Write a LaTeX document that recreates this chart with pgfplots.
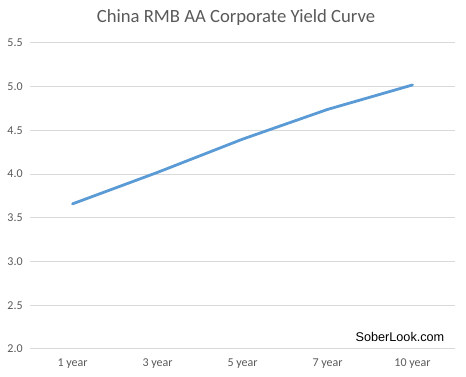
\documentclass[border=0pt]{standalone}
\usepackage{pgfplots}
\pgfplotsset{compat=1.18}
\usepackage{fontspec}
\setmainfont{Carlito}
\newfontfamily\arialfont{Liberation Sans}
\definecolor{txtgray}{HTML}{595959}
\definecolor{gridgray}{HTML}{D9D9D9}
\definecolor{lineblue}{HTML}{5B9BD5}
\begin{document}
\begin{tikzpicture}[x=0.75pt,y=0.75pt]
\useasboundingbox (0,0) rectangle (466,377);
\begin{axis}[
  at={(30pt*0.75,28pt*0.75)}, anchor=south west,
  scale only axis, width=318.75pt, height=229.5pt,
  xmin=-0.5, xmax=4.5, ymin=2, ymax=5.5,
  xtick={0,1,2,3,4},
  xticklabels={1 year,3 year,5 year,7 year,10 year},
  ytick={2,2.5,3,3.5,4,4.5,5,5.5},
  yticklabel style={/pgf/number format/fixed,/pgf/number format/precision=1,/pgf/number format/fixed zerofill},
  /pgf/number format/assume math mode=true,
  axis line style={draw=none},
  major tick length=0pt,
  ymajorgrids, grid style={gridgray, line width=0.75pt},
  tick label style={font=\fontsize{9}{11}\selectfont, text=txtgray},
  xticklabel style={yshift=-4pt},
  yticklabel style={xshift=-2pt},
  clip=false,
]
\addplot[lineblue, line width=2.1pt, line join=round, line cap=round] coordinates {
(0,3.66) (1,4.02) (2,4.40) (3,4.74) (4,5.02)};
\end{axis}
\node[text=txtgray, font=\fontsize{14}{16}\selectfont] at (236,359) {China RMB AA Corporate Yield Curve};
\node[anchor=east, font=\arialfont\fontsize{9.5}{11}\selectfont] at (449,40) {SoberLook.com};
\end{tikzpicture}
\end{document}
